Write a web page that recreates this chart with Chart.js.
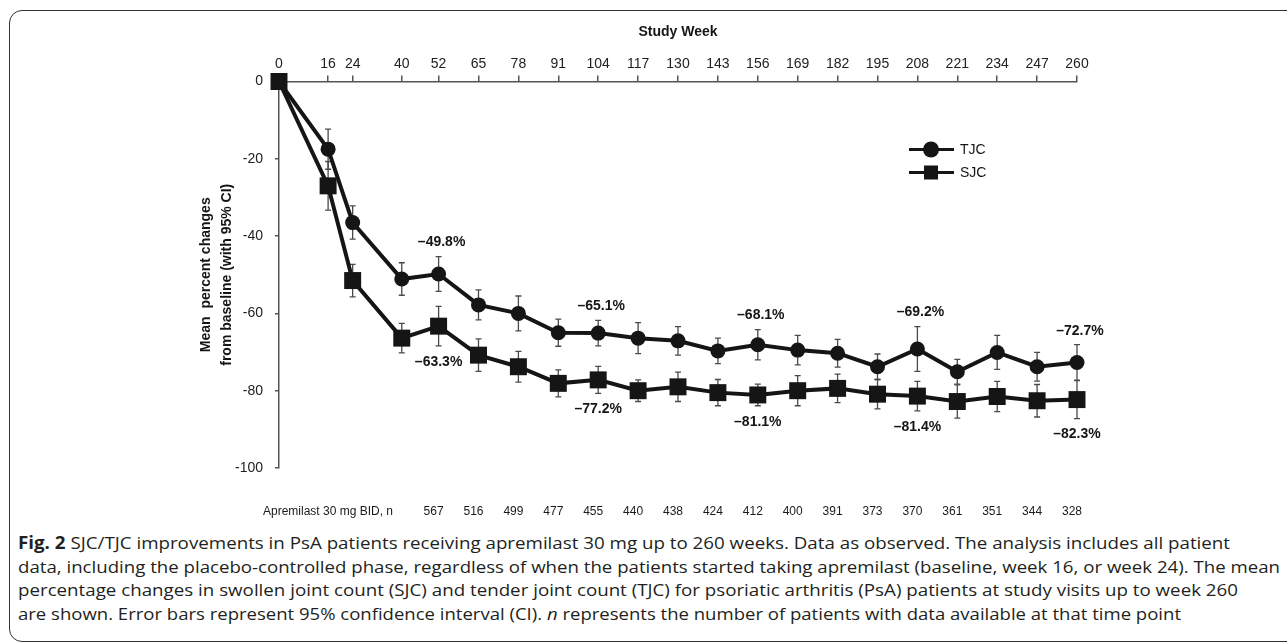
<!DOCTYPE html>
<html>
<head>
<meta charset="utf-8">
<title>SJC/TJC improvements</title>
<script src="https://cdn.jsdelivr.net/npm/chart.js@4.4.1/dist/chart.umd.min.js"></script>
<style>
  html, body { margin: 0; padding: 0; background: #fff; }
  body { width: 1287px; height: 643px; position: relative; overflow: hidden; }
  .frame { position: absolute; left: 9px; top: 10px; width: 1320px; height: 632px;
           border: 1.5px solid #333; border-radius: 13px; box-sizing: border-box; }
  .chart-box { position: absolute; left: 0; top: 0; width: 1287px; height: 525px; }
  .caption { position: absolute; left: 18px; top: 531px; color: #231f20;
             font-family: "Open Sans", "Noto Sans", sans-serif; font-size: 17px; line-height: 23.7px; }
  .caption .line { white-space: nowrap; height: 23.7px; }
  .caption .line span { display: inline-block; transform-origin: 0 50%; }
</style>
</head>
<body>
<div class="frame"></div>
<div class="chart-box"><canvas id="lineChart"></canvas></div>
<div class="caption">
  <div class="line" data-w="1212"><span><b>Fig. 2</b> SJC/TJC improvements in PsA patients receiving apremilast 30 mg up to 260 weeks. Data as observed. The analysis includes all patient</span></div>
  <div class="line" data-w="1262"><span>data, including the placebo-controlled phase, regardless of when the patients started taking apremilast (baseline, week 16, or week 24). The mean</span></div>
  <div class="line" data-w="1220"><span>percentage changes in swollen joint count (SJC) and tender joint count (TJC) for psoriatic arthritis (PsA) patients at study visits up to week 260</span></div>
  <div class="line" data-w="1163"><span>are shown. Error bars represent 95% confidence interval (CI). <i>n</i> represents the number of patients with data available at that time point</span></div>
</div>
<script>
// data
var weeks  = [0, 16, 24, 40, 52, 65, 78, 91, 104, 117, 130, 143, 156, 169, 182, 195, 208, 221, 234, 247, 260];
var tjc    = [0, -17.5, -36.5, -51.1, -49.8, -57.8, -60.0, -65.0, -65.1, -66.4, -67.1, -69.7, -68.1, -69.5, -70.3, -73.8, -69.2, -75.1, -70.1, -73.8, -72.7];
var sjc    = [0, -27.0, -51.5, -66.4, -63.3, -70.8, -73.8, -78.1, -77.2, -80.0, -79.0, -80.5, -81.1, -80.0, -79.4, -80.9, -81.4, -82.8, -81.5, -82.6, -82.3];
// half width of the 95% CI
var tjcCI  = [0, 5.2, 4.3, 4.2, 4.5, 3.9, 4.5, 3.5, 3.3, 4.0, 3.7, 3.3, 3.9, 3.8, 3.6, 3.3, 5.8, 3.2, 4.4, 3.7, 4.6];
var sjcCI  = [0, 6.3, 4.2, 3.8, 5.1, 4.2, 4.0, 3.5, 3.5, 2.8, 3.8, 3.4, 2.8, 3.9, 3.7, 3.8, 3.8, 4.3, 3.9, 4.2, 4.9];
var xTicks = weeks;
var yTicks = [0, -20, -40, -60, -80, -100];

var labelWeeks = [52, 104, 156, 208, 260];
var tjcLabels  = ['\u201349.8%', '\u201365.1%', '\u201368.1%', '\u201369.2%', '\u201372.7%'];
var sjcLabels  = ['\u201363.3%', '\u201377.2%', '\u201381.1%', '\u201381.4%', '\u201382.3%'];

var nWeeks  = [52, 65, 78, 91, 104, 117, 130, 143, 156, 169, 182, 195, 208, 221, 234, 247, 260];
var nCounts = [567, 516, 499, 477, 455, 440, 438, 424, 412, 400, 391, 373, 370, 361, 351, 344, 328];

var INK = '#151515';
var FONT = "'Liberation Sans', Arial, sans-serif";
Chart.defaults.font.family = FONT;

function pts(vals) {
  return weeks.map(function (w, i) { return { x: w, y: vals[i] }; });
}

// error bars, drawn under the lines
var errorBars = {
  id: 'errorBars',
  beforeDatasetsDraw: function (chart) {
    var ctx = chart.ctx, x = chart.scales.x, y = chart.scales.y;
    ctx.save();
    ctx.strokeStyle = '#4a4a4a';
    ctx.lineWidth = 1.3;
    [[tjc, tjcCI], [sjc, sjcCI]].forEach(function (s) {
      weeks.forEach(function (w, i) {
        if (!s[1][i]) return;
        var px = x.getPixelForValue(w);
        var top = y.getPixelForValue(s[0][i] + s[1][i]);
        var bot = y.getPixelForValue(s[0][i] - s[1][i]);
        ctx.beginPath();
        ctx.moveTo(px, top); ctx.lineTo(px, bot);
        ctx.moveTo(px - 3, top); ctx.lineTo(px + 3, top);
        ctx.moveTo(px - 3, bot); ctx.lineTo(px + 3, bot);
        ctx.stroke();
      });
    });
    ctx.restore();
  }
};

// value labels, legend and the n row
var extras = {
  id: 'extras',
  afterDraw: function (chart) {
    var ctx = chart.ctx, x = chart.scales.x, y = chart.scales.y, area = chart.chartArea;
    ctx.save();
    ctx.fillStyle = INK;
    ctx.textAlign = 'center';
    ctx.textBaseline = 'middle';
    ctx.font = 'bold 14px ' + FONT;
    labelWeeks.forEach(function (w, k) {
      var i = weeks.indexOf(w);
      var px = x.getPixelForValue(w);
      ctx.fillText(tjcLabels[k], px + 3, y.getPixelForValue(tjc[i] + tjcCI[i]) - 14);
      ctx.fillText(sjcLabels[k], px, y.getPixelForValue(sjc[i] - sjcCI[i]) + 16);
    });

    // legend
    var lx = area.left + 630, ly = area.top + 68;
    chart.data.datasets.forEach(function (ds, k) {
      var yy = ly + k * 23;
      ctx.strokeStyle = INK;
      ctx.lineWidth = 3;
      ctx.beginPath();
      ctx.moveTo(lx, yy); ctx.lineTo(lx + 45, yy);
      ctx.stroke();
      ctx.fillStyle = INK;
      if (ds.pointStyle === 'rect') {
        ctx.fillRect(lx + 15, yy - 7, 14, 14);
      } else {
        ctx.beginPath();
        ctx.arc(lx + 22, yy, 8, 0, Math.PI * 2);
        ctx.fill();
      }
      ctx.textAlign = 'left';
      ctx.font = '14px ' + FONT;
      ctx.fillText(ds.label, lx + 51, yy + 1);
    });

    // patients per visit
    ctx.fillStyle = '#1a1a1a';
    ctx.font = '12px ' + FONT;
    var ny = area.bottom + 44;
    ctx.textAlign = 'right';
    ctx.fillText('Apremilast 30 mg BID, n', area.left + 114, ny);
    ctx.textAlign = 'center';
    nWeeks.forEach(function (w, i) {
      ctx.fillText(String(nCounts[i]), x.getPixelForValue(w) - 5, ny);
    });
    ctx.restore();
  }
};

var ctxL = document.getElementById('lineChart').getContext('2d');
var myLineChart = new Chart(ctxL, {
  type: 'line',
  data: {
    datasets: [{
      label: 'TJC',
      data: pts(tjc),
      borderColor: INK,
      backgroundColor: INK,
      borderWidth: 4,
      pointStyle: 'circle',
      pointRadius: 7.5,
      pointBorderWidth: 0,
      clip: false
    }, {
      label: 'SJC',
      data: pts(sjc),
      borderColor: INK,
      backgroundColor: INK,
      borderWidth: 4,
      pointStyle: 'rect',
      pointRadius: 12,
      pointBorderWidth: 0,
      clip: false
    }]
  },
  options: {
    responsive: true,
    maintainAspectRatio: false,
    animation: false,
    events: [],
    layout: { padding: { left: 0, top: 0, right: 210, bottom: 57 } },
    plugins: { legend: { display: false }, tooltip: { enabled: false } },
    scales: {
      x: {
        type: 'linear',
        position: 'top',
        min: 0,
        max: 260,
        afterBuildTicks: function (s) { s.ticks = xTicks.map(function (v) { return { value: v }; }); },
        afterFit: function (s) { s.height = 81.5; },
        ticks: { autoSkip: false, maxRotation: 0, color: '#222', font: { size: 14 }, padding: 3 },
        grid: { drawOnChartArea: false, drawTicks: true, tickLength: 6, color: '#555', lineWidth: 1.5 },
        border: { color: '#555', width: 1.5 },
        title: { display: true, text: 'Study Week', color: INK, font: { size: 14, weight: 'bold' }, padding: { top: 24, bottom: 0 } }
      },
      y: {
        min: -100,
        max: 0,
        afterBuildTicks: function (s) { s.ticks = yTicks.map(function (v) { return { value: v }; }); },
        afterFit: function (s) { s.width = 279; },
        ticks: { color: '#222', font: { size: 14 }, padding: 12 },
        grid: { drawOnChartArea: false, drawTicks: true, tickLength: 4, color: '#555', lineWidth: 1.5 },
        border: { color: '#555', width: 1.5 },
        title: {
          display: true,
          text: ['Mean  percent changes', 'from baseline (with 95% CI)'],
          color: INK,
          font: { size: 14, weight: 'bold', lineHeight: 1.5 },
          padding: { top: 196, bottom: 0 }
        }
      }
    }
  },
  plugins: [errorBars, extras]
});

// stretch each caption line to the width it has in the figure
document.querySelectorAll('.caption .line').forEach(function (el) {
  var span = el.firstElementChild;
  var w = span.getBoundingClientRect().width;
  span.style.transform = 'scaleX(' + (+el.dataset.w / w) + ')';
});
</script>
</body>
</html>
